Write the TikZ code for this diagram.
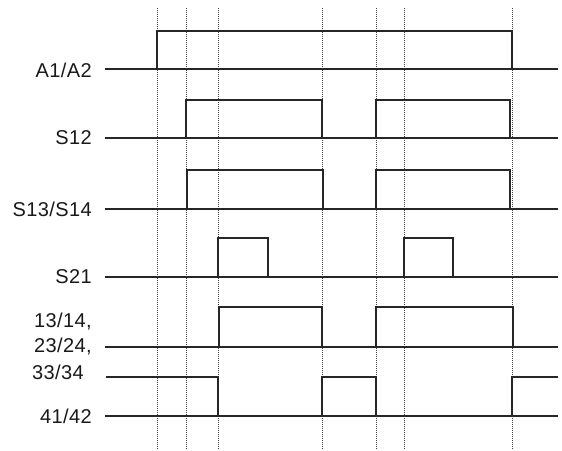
\documentclass[tikz,border=0pt]{standalone}
\usepackage{fontspec}
\setmainfont{Liberation Sans}[LetterSpace=2]
\begin{document}
\begin{tikzpicture}[x=1pt,y=-1pt,
  sig/.style={draw=black!85,line width=1.2pt},
  grid/.style={draw=black!75,line width=1pt,dash pattern=on 1pt off 1pt},
  lab/.style={anchor=east,inner sep=0pt,text=black!90,font=\fontsize{20}{24}\selectfont}]
\useasboundingbox (0,0) rectangle (562,450);
% dotted time markers
\foreach \t/\n in {157/t1,186/t2,218/t3,322/t4,376/t5,404/t6,512/t7}{
  \coordinate (\n top) at (\t,8);
  \coordinate (\n bot) at (\t,450);
  \draw[grid] (\n top) -- (\n bot);
}
% labels
\node[lab] (lA) at (92,70) {A1/A2};
\node[lab] (lS12) at (92,138) {S12};
\node[lab] (lS13) at (92,209) {S13/S14};
\node[lab] (lS21) at (92,277) {S21};
\node[lab] (l13) at (92,322) {13/14,};
\node[lab] (l23) at (92,347) {23/24,};
\node[lab,anchor=west] (l33) at (32,372) {33/34};
\node[lab] (l41) at (92,416) {41/42};
% A1/A2
\draw[sig] (105,69) -- (157,69) -- (157,31) -- (512,31) -- (512,69) -- (558,69);
\draw[sig] (157,69) -- (512,69);
% S12
\draw[sig] (105,138) -- (558,138);
\draw[sig] (186,138) -- (186,100) -- (322,100) -- (322,138);
\draw[sig] (376,138) -- (376,100) -- (510,100) -- (510,138);
% S13/S14
\draw[sig] (105,209) -- (558,209);
\draw[sig] (187,209) -- (187,170) -- (323,170) -- (323,209);
\draw[sig] (376,209) -- (376,170) -- (510,170) -- (510,209);
% S21
\draw[sig] (105,277) -- (558,277);
\draw[sig] (218,277) -- (218,238) -- (268,238) -- (268,277);
\draw[sig] (404,277) -- (404,238) -- (453,238) -- (453,277);
% 13/14 ...
\draw[sig] (105,347) -- (558,347);
\draw[sig] (219,347) -- (219,307) -- (322,307) -- (322,347);
\draw[sig] (376,347) -- (376,307) -- (513,307) -- (513,347);
% 41/42
\draw[sig] (105,416) -- (558,416);
\draw[sig] (106,377) -- (218,377) -- (218,416);
\draw[sig] (322,416) -- (322,377) -- (376,377) -- (376,416);
\draw[sig] (512,416) -- (512,377) -- (558,377);
\end{tikzpicture}
\end{document}
